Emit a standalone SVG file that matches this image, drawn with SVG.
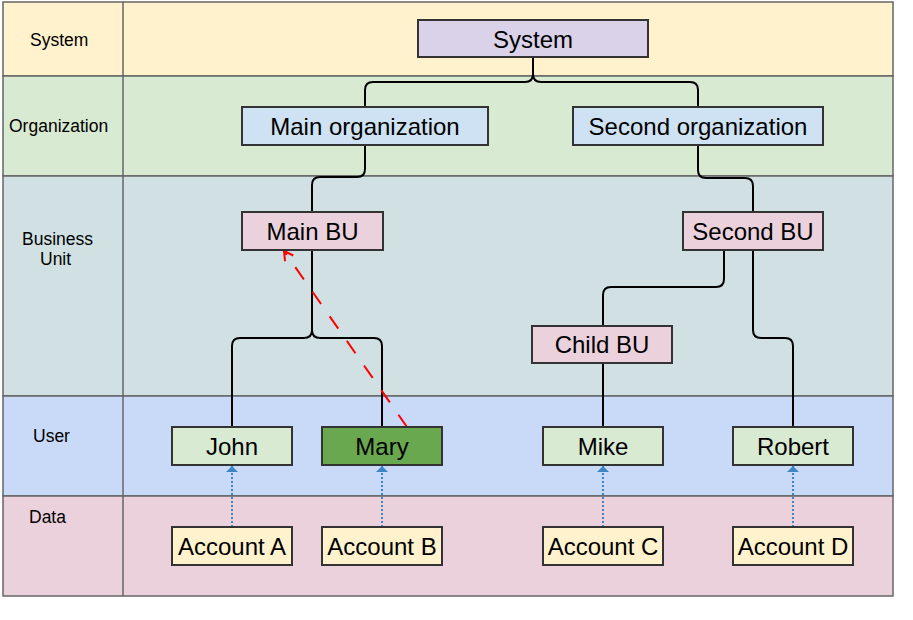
<svg xmlns="http://www.w3.org/2000/svg" width="913" height="620" viewBox="0 0 913 620">
  <style>
    .lane { stroke: #666666; stroke-width: 1.5; }
    .lbl { font-family: "Liberation Sans", Arial, sans-serif; font-size: 17.5px; fill: #000; }
    .node rect { stroke: #333333; stroke-width: 2; }
    .node text { font-family: "Liberation Sans", Arial, sans-serif; font-size: 24px; fill: #000; text-anchor: middle; dominant-baseline: central; }
    .tree { fill: none; stroke: #000; stroke-width: 2; }
    .ref { fill: none; stroke: #ff0000; stroke-width: 2; stroke-dasharray: 15 15; }
    .own { fill: none; stroke: #3d85c6; stroke-width: 2; stroke-dasharray: 2 2; }
  </style>
  <defs>
    <marker id="openArrow" markerWidth="14" markerHeight="14" refX="10" refY="6" orient="auto" markerUnits="userSpaceOnUse">
      <path d="M1,1 L10,6 L1,11" fill="none" stroke="#ff0000" stroke-width="2"/>
    </marker>
    <marker id="blueArrow" markerWidth="14" markerHeight="14" refX="6" refY="6" orient="auto" markerUnits="userSpaceOnUse">
      <path d="M0,0 L6,6 L0,12 Z" fill="#3d85c6" stroke="none"/>
    </marker>
  </defs>

  <rect width="913" height="620" fill="#ffffff"/>

  <g id="lanes">
    <rect class="lane" x="3" y="2" width="890" height="74" fill="#fff2cc"/>
    <rect class="lane" x="3" y="76" width="890" height="100" fill="#d9ead3"/>
    <rect class="lane" x="3" y="176" width="890" height="220" fill="#d0e0e3"/>
    <rect class="lane" x="3" y="396" width="890" height="100" fill="#c9daf8"/>
    <rect class="lane" x="3" y="496" width="890" height="100" fill="#ead1dc"/>
    <line class="lane" x1="123" y1="2" x2="123" y2="596"/>
    <text class="lbl" x="30" y="46">System</text>
    <text class="lbl" x="9" y="132">Organization</text>
    <text class="lbl" x="22" y="245">Business</text>
    <text class="lbl" x="40" y="265">Unit</text>
    <text class="lbl" x="33" y="442">User</text>
    <text class="lbl" x="29" y="523">Data</text>
  </g>

  <g id="connectors">
    <path class="tree" d="M533,57 V74 Q533,82 525,82 H373 Q365,82 365,90 V107"/>
    <path class="tree" d="M533,57 V74 Q533,82 541,82 H690 Q698,82 698,90 V107"/>
    <path class="tree" d="M365,145 V169 Q365,177 357,177 H320 Q312,177 312,185 V212"/>
    <path class="tree" d="M698,145 V170 Q698,178 706,178 H745 Q753,178 753,186 V212"/>
    <path class="tree" d="M312,250 V330 Q312,338 304,338 H240 Q232,338 232,346 V427"/>
    <path class="tree" d="M312,250 V330 Q312,338 320,338 H374 Q382,338 382,346 V427"/>
    <path class="tree" d="M724,250 V279 Q724,287 716,287 H611 Q603,287 603,295 V326"/>
    <path class="tree" d="M753,250 V330 Q753,338 761,338 H785 Q793,338 793,346 V427"/>
    <path class="tree" d="M603,363 V427"/>
    <path class="ref" d="M407,427 L284,251" marker-end="url(#openArrow)"/>
    <path class="own" d="M232,527 V466" marker-end="url(#blueArrow)"/>
    <path class="own" d="M382,527 V466" marker-end="url(#blueArrow)"/>
    <path class="own" d="M603,527 V466" marker-end="url(#blueArrow)"/>
    <path class="own" d="M793,527 V466" marker-end="url(#blueArrow)"/>
  </g>

  <g id="system" class="node"><rect x="418" y="20" width="230" height="37" fill="#d9d2e9"/><text x="533" y="39">System</text></g>
  <g id="main-org" class="node"><rect x="242" y="107" width="246" height="38" fill="#cfe2f3"/><text x="365" y="126">Main organization</text></g>
  <g id="second-org" class="node"><rect x="573" y="107" width="250" height="38" fill="#cfe2f3"/><text x="698" y="126">Second organization</text></g>
  <g id="main-bu" class="node"><rect x="242" y="212" width="141" height="38" fill="#ead1dc"/><text x="312.5" y="231">Main BU</text></g>
  <g id="second-bu" class="node"><rect x="683" y="212" width="140" height="38" fill="#ead1dc"/><text x="753" y="231">Second BU</text></g>
  <g id="child-bu" class="node"><rect x="532" y="326" width="140" height="37" fill="#ead1dc"/><text x="602" y="344.5">Child BU</text></g>
  <g id="john" class="node"><rect x="172" y="427" width="120" height="38" fill="#d9ead3"/><text x="232" y="446">John</text></g>
  <g id="mary" class="node"><rect x="322" y="427" width="120" height="38" fill="#6aa84f"/><text x="382" y="446">Mary</text></g>
  <g id="mike" class="node"><rect x="543" y="427" width="120" height="38" fill="#d9ead3"/><text x="603" y="446">Mike</text></g>
  <g id="robert" class="node"><rect x="733" y="427" width="120" height="38" fill="#d9ead3"/><text x="793" y="446">Robert</text></g>
  <g id="account-a" class="node"><rect x="172" y="527" width="120" height="38" fill="#fff2cc"/><text x="232" y="546">Account A</text></g>
  <g id="account-b" class="node"><rect x="322" y="527" width="120" height="38" fill="#fff2cc"/><text x="382" y="546">Account B</text></g>
  <g id="account-c" class="node"><rect x="543" y="527" width="120" height="38" fill="#fff2cc"/><text x="603" y="546">Account C</text></g>
  <g id="account-d" class="node"><rect x="733" y="527" width="120" height="38" fill="#fff2cc"/><text x="793" y="546">Account D</text></g>
</svg>
